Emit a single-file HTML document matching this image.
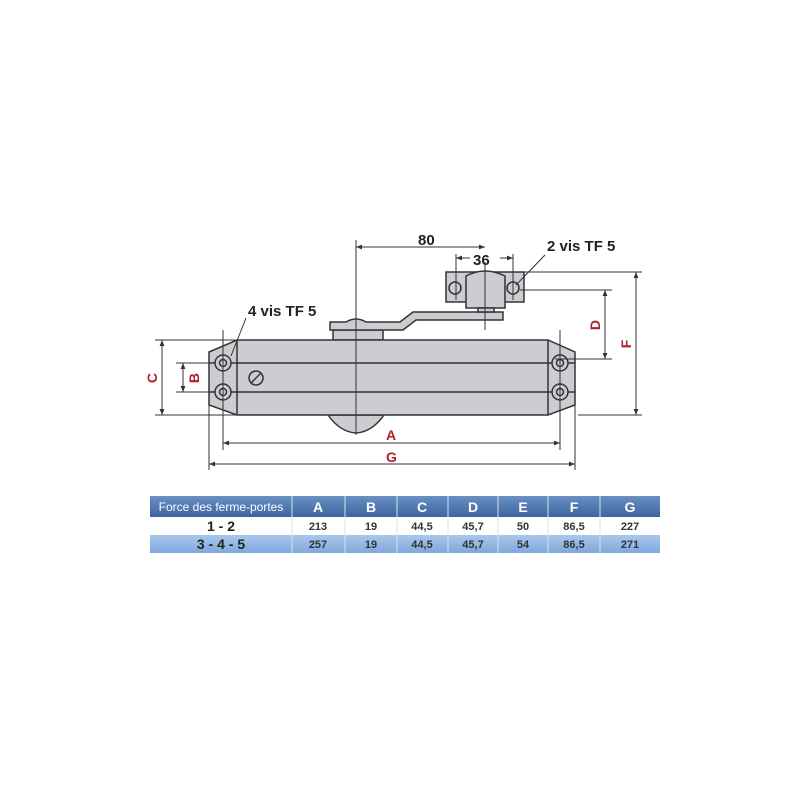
<!DOCTYPE html>
<html><head><style>
body{margin:0;background:#fff;}
svg{display:block;font-family:"Liberation Sans",sans-serif;}
</style></head><body>
<svg width="800" height="800" viewBox="0 0 800 800" xmlns="http://www.w3.org/2000/svg">
<defs>
<marker id="ar" viewBox="0 0 10 10" refX="10" refY="5" markerWidth="8" markerHeight="6" orient="auto-start-reverse"><path d="M0,1 L10,5 L0,9 z" fill="#333"/></marker>
<linearGradient id="hd" x1="0" y1="0" x2="0" y2="1"><stop offset="0" stop-color="#6a90c4"/><stop offset="1" stop-color="#3d64a0"/></linearGradient>
<linearGradient id="r2" x1="0" y1="0" x2="0" y2="1"><stop offset="0" stop-color="#a9c8ec"/><stop offset="1" stop-color="#7fa8dc"/></linearGradient>
</defs>
<g stroke="#333" stroke-width="1.5" fill="#cbcdd2">
<path d="M328,415 Q340,432 356,433 Q372,432 384,415 z"/>
<rect x="333" y="330" width="50" height="10"/>
<path d="M330,322 L346,322 Q356,316 366,322 L400,322 L413,312 L503,312 L503,320 L416,320 L403,330 L330,330 z"/>
<rect x="446" y="272" width="78" height="30"/>
<path d="M466,308 L466,276 Q485,266 505,276 L505,308 z"/>
<rect x="478" y="308" width="16" height="4"/>
<path d="M237,340 L548,340 L575,352 L575,405 L548,415 L237,415 L209,405 L209,352 z"/>
</g>
<g stroke="#333" stroke-width="1.5" fill="none">
<line x1="237" y1="340" x2="237" y2="415"/><line x1="548" y1="340" x2="548" y2="415"/>
<line x1="209" y1="363" x2="575" y2="363"/><line x1="209" y1="392" x2="575" y2="392"/>
<g fill="#cbcdd2">
<circle cx="223" cy="363" r="8"/><circle cx="223" cy="392" r="8"/><circle cx="560" cy="363" r="8"/><circle cx="560" cy="392" r="8"/>
<circle cx="455" cy="288" r="6"/><circle cx="513" cy="288" r="6"/>
<circle cx="256" cy="378" r="7"/>
</g>
<circle cx="223" cy="363" r="3.5"/><circle cx="223" cy="392" r="3.5"/><circle cx="560" cy="363" r="3.5"/><circle cx="560" cy="392" r="3.5"/>
<line x1="251" y1="383" x2="261" y2="373"/>
</g>
<g stroke="#333" stroke-width="1" fill="none">
<line x1="356" y1="240" x2="356" y2="435"/>
<line x1="485" y1="262" x2="485" y2="330"/>
<line x1="356" y1="247" x2="485" y2="247" marker-start="url(#ar)" marker-end="url(#ar)"/>
<line x1="456" y1="254" x2="456" y2="300"/><line x1="513" y1="254" x2="513" y2="300"/>
<line x1="456" y1="258" x2="470" y2="258" marker-start="url(#ar)"/><line x1="500" y1="258" x2="513" y2="258" marker-end="url(#ar)"/>
<line x1="520" y1="272" x2="642" y2="272"/><line x1="520" y1="290" x2="612" y2="290"/>
<line x1="555" y1="359" x2="612" y2="359"/><line x1="578" y1="415" x2="642" y2="415"/>
<line x1="605" y1="290" x2="605" y2="359" marker-start="url(#ar)" marker-end="url(#ar)"/>
<line x1="636" y1="272" x2="636" y2="415" marker-start="url(#ar)" marker-end="url(#ar)"/>
<line x1="155" y1="340" x2="237" y2="340"/><line x1="155" y1="415" x2="237" y2="415"/>
<line x1="176" y1="363" x2="209" y2="363"/><line x1="176" y1="392" x2="209" y2="392"/>
<line x1="162" y1="340" x2="162" y2="415" marker-start="url(#ar)" marker-end="url(#ar)"/>
<line x1="183" y1="363" x2="183" y2="392" marker-start="url(#ar)" marker-end="url(#ar)"/>
<line x1="223" y1="330" x2="223" y2="450"/><line x1="560" y1="330" x2="560" y2="450"/>
<line x1="209" y1="405" x2="209" y2="470"/><line x1="575" y1="405" x2="575" y2="470"/>
<line x1="223" y1="443" x2="560" y2="443" marker-start="url(#ar)" marker-end="url(#ar)"/>
<line x1="209" y1="464" x2="575" y2="464" marker-start="url(#ar)" marker-end="url(#ar)"/>
<line x1="246" y1="318" x2="231" y2="356"/>
<line x1="545" y1="255" x2="516" y2="285"/>
</g>
<g font-weight="bold" font-size="15" fill="#222">
<text x="418" y="245">80</text><text x="473" y="265">36</text>
<text x="547" y="251">2 vis TF 5</text><text x="248" y="316">4 vis TF 5</text>
</g>
<g font-weight="bold" font-size="14" fill="#b0202a">
<text x="386" y="440">A</text><text x="386" y="462">G</text>
<text transform="translate(600,325) rotate(-90)" text-anchor="middle">D</text>
<text transform="translate(631,344) rotate(-90)" text-anchor="middle">F</text>
<text transform="translate(157,378) rotate(-90)" text-anchor="middle">C</text>
<text transform="translate(199,378) rotate(-90)" text-anchor="middle">B</text>
</g>
<rect x="150" y="496" width="510" height="21" fill="url(#hd)"/>
<rect x="150" y="517" width="510" height="18" fill="#fff"/>
<rect x="150" y="535" width="510" height="18" fill="url(#r2)"/>
<g stroke="#d8e2f0" stroke-width="1">
<line x1="292" y1="496" x2="292" y2="553"/><line x1="345" y1="496" x2="345" y2="553"/><line x1="397" y1="496" x2="397" y2="553"/><line x1="448" y1="496" x2="448" y2="553"/><line x1="498" y1="496" x2="498" y2="553"/><line x1="548" y1="496" x2="548" y2="553"/><line x1="600" y1="496" x2="600" y2="553"/>
</g>
<g font-size="12" fill="#fff"><text x="221" y="511" text-anchor="middle">Force des ferme-portes</text></g>
<g font-size="14" font-weight="bold" fill="#fff" text-anchor="middle">
<text x="318" y="512">A</text><text x="371" y="512">B</text><text x="422" y="512">C</text><text x="473" y="512">D</text><text x="523" y="512">E</text><text x="574" y="512">F</text><text x="630" y="512">G</text>
</g>
<g font-size="11" font-weight="bold" fill="#333" text-anchor="middle">
<text x="221" y="531" font-size="14" fill="#222">1 - 2</text>
<text x="318" y="530">213</text><text x="371" y="530">19</text><text x="422" y="530">44,5</text><text x="473" y="530">45,7</text><text x="523" y="530">50</text><text x="574" y="530">86,5</text><text x="630" y="530">227</text>
<text x="221" y="549" font-size="14" fill="#222">3 - 4 - 5</text>
<text x="318" y="548">257</text><text x="371" y="548">19</text><text x="422" y="548">44,5</text><text x="473" y="548">45,7</text><text x="523" y="548">54</text><text x="574" y="548">86,5</text><text x="630" y="548">271</text>
</g>
</svg>
</body></html>
